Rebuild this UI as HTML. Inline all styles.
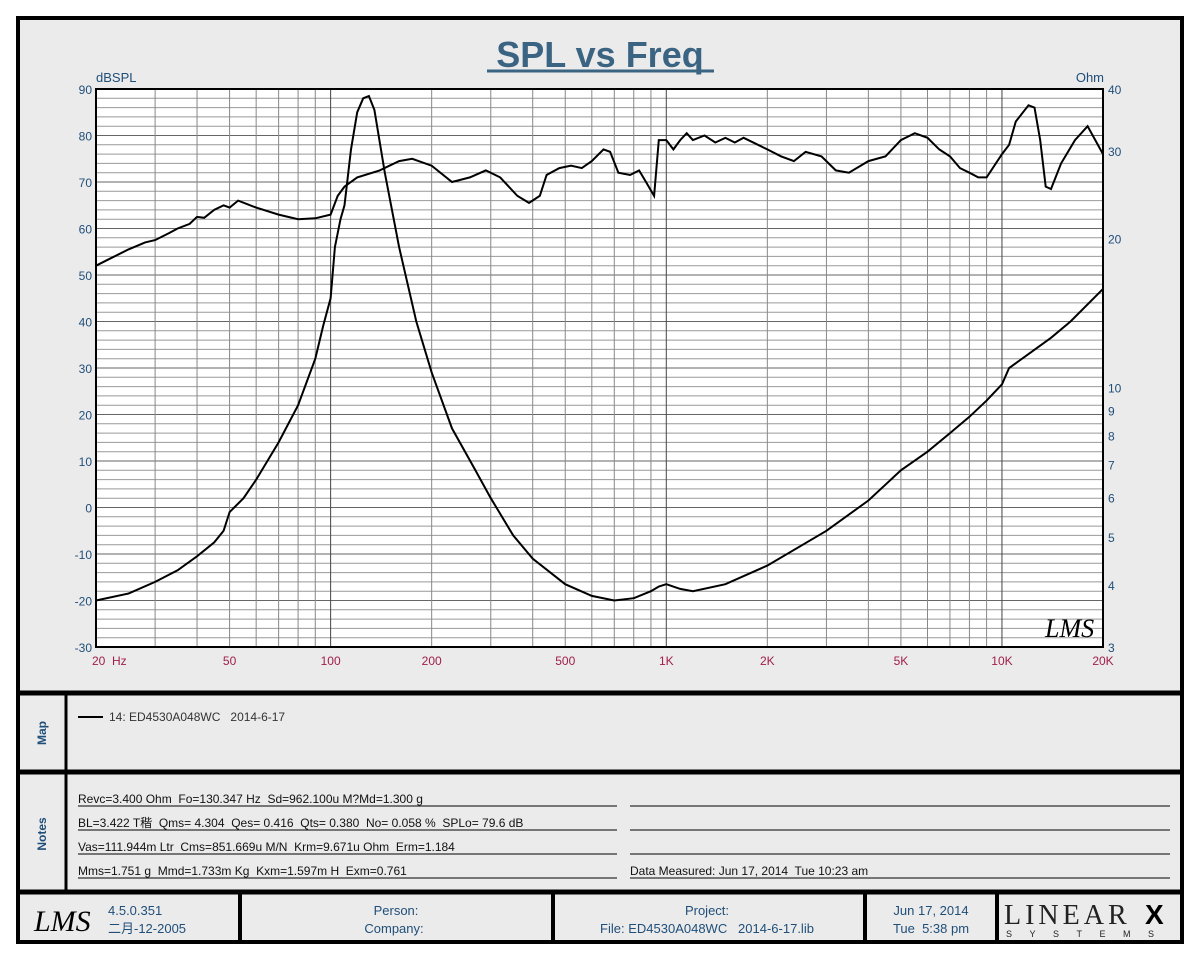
<!DOCTYPE html>
<html><head><meta charset="utf-8"><style>
body{margin:0;background:#fff;width:1200px;height:960px;overflow:hidden;font-family:"Liberation Sans","Noto Sans CJK SC",sans-serif}
text{white-space:pre}
</style></head><body>
<svg id="s" width="1200" height="960" xmlns="http://www.w3.org/2000/svg" font-family="Liberation Sans, Noto Sans CJK SC, sans-serif" xml:space="preserve">
<rect x="0" y="0" width="1200" height="960" fill="#fff"/>
<rect x="18" y="18" width="1164" height="924" fill="#ebebeb" stroke="#000" stroke-width="4"/>
<text x="600" y="67" text-anchor="middle" font-size="36" font-weight="bold" fill="#3b6483">SPL vs Freq</text>
<line x1="487" y1="71" x2="714" y2="71" stroke="#3b6483" stroke-width="3"/>
<text x="96" y="82" font-size="13" fill="#1f4e79">dBSPL</text>
<text x="1104" y="82" font-size="13" fill="#1f4e79" text-anchor="end">Ohm</text>
<rect x="96" y="89" width="1007" height="558" fill="#fff"/>
<g id="grid"></g>
<g id="curves" fill="none" stroke="#000" stroke-width="2"></g>
<rect x="96" y="89" width="1007" height="558" fill="none" stroke="#000" stroke-width="2"/>
<g id="lab"></g>
<text x="1045" y="637" font-size="26" font-style="italic" fill="#000" font-family="Liberation Serif, serif">LMS</text>
<line x1="18" y1="693" x2="1182" y2="693" stroke="#000" stroke-width="5"/>
<line x1="18" y1="772" x2="1182" y2="772" stroke="#000" stroke-width="5"/>
<line x1="18" y1="892" x2="1182" y2="892" stroke="#000" stroke-width="5"/>
<line x1="66" y1="693" x2="66" y2="892" stroke="#000" stroke-width="3"/>
<text transform="translate(46,733) rotate(-90)" text-anchor="middle" font-size="12" font-weight="bold" fill="#1f4e79">Map</text>
<text transform="translate(46,834) rotate(-90)" text-anchor="middle" font-size="12" font-weight="bold" fill="#1f4e79">Notes</text>
<line x1="78" y1="717" x2="103" y2="717" stroke="#000" stroke-width="2"/>
<text x="109" y="721" font-size="12" fill="#333">14: ED4530A048WC   2014-6-17</text>
<g font-size="12" fill="#111">
<text x="78" y="803">Revc=3.400 Ohm  Fo=130.347 Hz  Sd=962.100u M?Md=1.300 g</text>
<text x="78" y="827">BL=3.422 T稭  Qms= 4.304  Qes= 0.416  Qts= 0.380  No= 0.058 %  SPLo= 79.6 dB</text>
<text x="78" y="851">Vas=111.944m Ltr  Cms=851.669u M/N  Krm=9.671u Ohm  Erm=1.184</text>
<text x="78" y="875">Mms=1.751 g  Mmd=1.733m Kg  Kxm=1.597m H  Exm=0.761</text>
<text x="630" y="875">Data Measured: Jun 17, 2014  Tue 10:23 am</text>
</g>
<g stroke="#000" stroke-width="1">
<line x1="78" y1="806" x2="617" y2="806"/><line x1="630" y1="806" x2="1170" y2="806"/>
<line x1="78" y1="830" x2="617" y2="830"/><line x1="630" y1="830" x2="1170" y2="830"/>
<line x1="78" y1="854" x2="617" y2="854"/><line x1="630" y1="854" x2="1170" y2="854"/>
<line x1="78" y1="878" x2="617" y2="878"/><line x1="630" y1="878" x2="1170" y2="878"/>
</g>
<g stroke="#000" stroke-width="4">
<line x1="240" y1="892" x2="240" y2="942"/><line x1="553" y1="892" x2="553" y2="942"/>
<line x1="865" y1="892" x2="865" y2="942"/><line x1="997" y1="892" x2="997" y2="942"/>
</g>
<text x="34" y="931" font-size="30" font-style="italic" font-family="Liberation Serif, serif">LMS</text>
<g font-size="13" fill="#1f4e79">
<text x="108" y="915">4.5.0.351</text>
<text x="108" y="933">二月-12-2005</text>
<text x="396" y="915" text-anchor="middle">Person:</text>
<text x="394" y="933" text-anchor="middle">Company:</text>
<text x="707" y="915" text-anchor="middle">Project:</text>
<text x="707" y="933" text-anchor="middle">File: ED4530A048WC   2014-6-17.lib</text>
<text x="931" y="915" text-anchor="middle">Jun 17, 2014</text>
<text x="931" y="933" text-anchor="middle">Tue  5:38 pm</text>
</g>
<text x="1004" y="924" font-size="28" font-family="Liberation Serif, serif" letter-spacing="4" fill="#222">LINEAR</text>
<text x="1145" y="924" font-size="28" font-weight="bold" fill="#000">X</text>
<text x="1006" y="937" font-size="9" letter-spacing="17.5" fill="#222">SYSTEMS</text>
</svg>
<script>
const NS="http://www.w3.org/2000/svg";
const X0=96,X1=1103,Y0=89,Y1=647;
const fx=f=>X0+(Math.log10(f/20))*(X1-X0)/3;
const dy=d=>Y1-(d+30)*(Y1-Y0)/120;
function el(p,t,a,txt){const e=document.createElementNS(NS,t);for(const k in a)e.setAttribute(k,a[k]);if(txt!==undefined)e.textContent=txt;p.appendChild(e);return e;}
const g=document.getElementById('grid');
for(let d=-30;d<=90;d+=2){const y=dy(d);el(g,'line',{x1:X0,x2:X1,y1:y,y2:y,stroke:d%10==0?'#666':'#999','stroke-width':1});}
for(let dec=10;dec<=10000;dec*=10)for(let m=1;m<=9;m++){const f=dec*m;if(f<20||f>20000)continue;const x=fx(f);el(g,'line',{x1:x,x2:x,y1:Y0,y2:Y1,stroke:m==1?'#444':'#888','stroke-width':1});}
const L=document.getElementById('lab');
for(let d=-30;d<=90;d+=10)el(L,'text',{x:92,y:dy(d)+5,'text-anchor':'end','font-size':12,fill:'#1f4e79'},d);
[40,30,20,10,9,8,7,6,5,4,3].forEach(o=>{const y=Y0+Math.log10(40/o)*(Y1-Y0)/Math.log10(40/3);el(L,'text',{x:1108,y:y+5,'font-size':12,fill:'#1f4e79'},o);});
[[20,'20  Hz',1],[50,'50'],[100,'100'],[200,'200'],[500,'500'],[1000,'1K'],[2000,'2K'],[5000,'5K'],[10000,'10K'],[20000,'20K']].forEach(([f,t,s])=>{el(L,'text',{x:s?fx(f)-4:fx(f),y:665,'text-anchor':s?'start':'middle','font-size':12,fill:'#a01e4a'},t);});
const spl=[[20,52],[22,53.5],[25,55.5],[28,57],[30,57.5],[33,59],[35,60],[38,61],[40,62.5],[42,62.3],[45,64],[48,65],[50,64.5],[53,66],[60,64.5],[70,63],[80,62],[90,62.2],[100,63],[105,67],[110,69],[120,71],[140,72.5],[160,74.5],[175,75],[200,73.5],[230,70],[260,71],[290,72.5],[320,71],[360,67],[390,65.5],[420,67],[440,71.5],[480,73],[520,73.5],[560,73],[600,74.5],[650,77],[680,76.5],[720,72],[780,71.5],[830,72.5],[870,70],[920,67],[950,79],[1000,79],[1050,77],[1100,79],[1150,80.5],[1200,79],[1300,80],[1400,78.5],[1500,79.5],[1600,78.5],[1700,79.5],[2000,77],[2200,75.5],[2400,74.5],[2600,76.5],[2900,75.5],[3200,72.5],[3500,72],[4000,74.5],[4500,75.5],[5000,79],[5500,80.5],[6000,79.5],[6500,77],[7000,75.5],[7500,73],[8000,72],[8500,71],[9000,71],[10000,76],[10500,78],[11000,83],[12000,86.5],[12500,86],[13000,79],[13500,69],[14000,68.5],[15000,74],[16500,79],[18000,82],[20000,76]];
const imp=[[20,-20],[25,-18.5],[30,-16],[35,-13.5],[40,-10.5],[45,-7.5],[48,-5],[50,-1],[55,2],[60,6],[70,14],[80,22],[90,32],[95,39],[100,45],[103,56],[107,62],[110,65],[115,77],[120,85],[125,88],[130,88.5],[135,85.5],[145,72],[160,56],[180,40],[200,29],[230,17],[270,8],[300,2],[350,-6],[400,-11],[500,-16.5],[600,-19],[700,-20],[800,-19.5],[900,-18],[950,-17],[1000,-16.5],[1100,-17.5],[1200,-18],[1500,-16.5],[2000,-12.5],[3000,-5],[4000,1.5],[5000,8],[6000,12],[7000,16],[8000,19.5],[9000,23],[10000,26.5],[10500,30],[12000,33],[14000,36.5],[16000,40],[20000,47]];
const C=document.getElementById('curves');
[spl,imp].forEach(a=>el(C,'polyline',{points:a.map(([f,d])=>fx(f).toFixed(1)+','+dy(d).toFixed(1)).join(' ')}));
</script>
</body></html>
